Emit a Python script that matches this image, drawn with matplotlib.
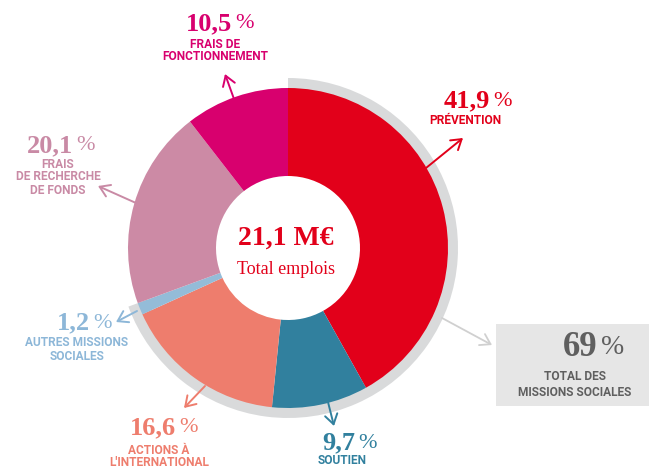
import matplotlib
matplotlib.use("Agg")
import matplotlib.pyplot as plt
from matplotlib.patches import Rectangle

# ---- data ----
categories = ["PRÉVENTION", "SOUTIEN", "ACTIONS À\nL'INTERNATIONAL",
              "AUTRES MISSIONS\nSOCIALES", "FRAIS\nDE RECHERCHE\nDE FONDS",
              "FRAIS DE\nFONCTIONNEMENT"]
values = [41.9, 9.7, 16.6, 1.2, 20.1, 10.5]
n_missions = 4  # first four categories are "missions sociales"
total_label = "21,1 M€"
total_sub = "Total emplois"
missions_caption = "TOTAL DES\nMISSIONS SOCIALES"

colors = ["#E2001A", "#31809E", "#EE7D6D", "#94BCD8", "#CC8AA5", "#D8006E"]
text_colors = ["#E2001A", "#31809E", "#EE7D6D", "#8DB7D8", "#C98AA5", "#D8006E"]
ring_color = "#D9DADB"
gray_text = "#5F5F5F"

W, H = 649, 470
fig = plt.figure(figsize=(W / 100, H / 100), dpi=100)
ax = fig.add_axes([0, 0, 1, 1])

def Y(y):
    return H - y

cx, cy = 288, Y(248)
R = 160

missions_total = sum(values[:n_missions])
# gray ring behind missions sociales
ax.pie([missions_total, 100 - missions_total], startangle=90, counterclock=False,
       radius=170, center=(cx, cy), colors=[ring_color, "none"],
       wedgeprops=dict(width=20, linewidth=0))
# main donut
ax.pie(values, startangle=90, counterclock=False, radius=R, center=(cx, cy),
       colors=colors, wedgeprops=dict(width=R - 72, linewidth=0))

ax.set_xlim(0, W)
ax.set_ylim(0, H)
ax.set_aspect("equal")
ax.axis("off")

NUMF = "Liberation Serif"
LABF = "Roboto"

def pct(v):
    return f"{v:.1f}".replace(".", ",")

# (number right x, number y, label center x, label first-line y, arrow start, arrow end)
layout = [
    (490, 101, 465, 121, (426, 168), (463, 138)),   # prévention
    (355, 443, 342, 461, (328, 402), (334, 426)),   # soutien
    (176, 428, 159, 450, (205, 386), (184, 408)),   # actions
    (90, 323, 77, 343, (137, 311), (116, 322)),     # autres
    (73, 146, 58, 164, (136, 203), (98, 186)),      # recherche
    (232, 24, 215, 44, (234, 99), (225, 74)),       # fonctionnement
]

for v, lab, col, (nx, ny, lx, ly, a0, a1) in zip(values, categories, text_colors, layout):
    ax.text(nx, Y(ny), pct(v), color=col, fontsize=19, fontweight="bold",
            family=NUMF, ha="right", va="center")
    ax.text(nx + 3, Y(ny), "%", color=col, fontsize=16, fontweight="normal",
            family=NUMF, ha="left", va="center")
    for i, line in enumerate(lab.split("\n")):
        ax.text(lx, Y(ly + 13 * i), line, color=col, fontsize=8.6, fontweight="bold",
                family=LABF, ha="center", va="center")
    ax.annotate("", xy=(a1[0], Y(a1[1])), xytext=(a0[0], Y(a0[1])),
                arrowprops=dict(arrowstyle="->,head_length=0.7,head_width=0.45",
                                color=col, lw=1.4, shrinkA=0, shrinkB=0))

# centre text
ax.text(cx - 2, Y(238), total_label, color="#E2001A", fontsize=20, fontweight="bold",
        family=NUMF, ha="center", va="center")
ax.text(cx - 2, Y(270), total_sub, color="#E2001A", fontsize=13,
        family=NUMF, ha="center", va="center")

# missions sociales box
ax.add_patch(Rectangle((496, Y(406)), W - 496, 82, facecolor="#E6E6E6", edgecolor="none"))
ax.text(598, Y(347), f"{missions_total:.0f}", color=gray_text, fontsize=25,
        fontweight="bold", family=NUMF, ha="right", va="center")
ax.text(601, Y(347), "%", color=gray_text, fontsize=20, family=NUMF,
        ha="left", va="center")
for i, line in enumerate(missions_caption.split("\n")):
    ax.text(575, Y(377 + 15 * i), line, color=gray_text, fontsize=8.6,
            fontweight="bold", family=LABF, ha="center", va="center")
ax.annotate("", xy=(492, Y(345)), xytext=(442, Y(318)),
            arrowprops=dict(arrowstyle="->,head_length=0.7,head_width=0.45",
                            color="#D0D0D0", lw=1.3, shrinkA=0, shrinkB=0))

fig.savefig("out.png", dpi=100)
